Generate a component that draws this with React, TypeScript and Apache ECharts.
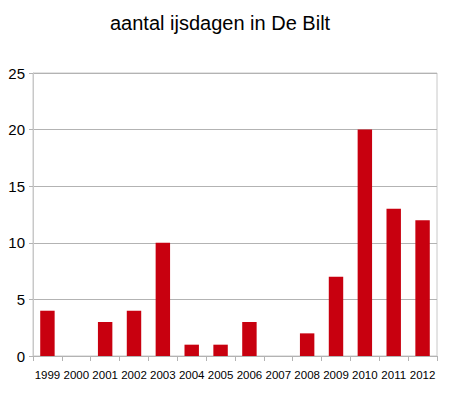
import React, { useEffect, useRef } from "react";
import * as echarts from "echarts";

const years = ["1999","2000","2001","2002","2003","2004","2005","2006","2007","2008","2009","2010","2011","2012"];
const ijsdagen = [4, 0, 3, 4, 10, 1, 1, 3, 0, 2, 7, 20, 13, 12];
const titleText = "aantal ijsdagen in De Bilt";

export default function App() {
  const ref = useRef<HTMLDivElement>(null);
  useEffect(() => {
    const chart = echarts.init(ref.current!, null, { renderer: "svg" });
    chart.setOption({
      animation: false,
      backgroundColor: "#ffffff",
      title: {
        text: titleText,
        left: 105,
        top: 8,
        textStyle: { fontFamily: "Liberation Sans, Arial", fontSize: 20, fontWeight: "normal", color: "#000" },
      },
      grid: { left: 33, right: 12, top: 73, bottom: 37, containLabel: false, show: true, borderColor: "#c8c8c8", borderWidth: 1 },
      xAxis: {
        type: "category",
        data: years,
        axisLine: { show: true, lineStyle: { color: "#b3b3b3" } },
        axisTick: { show: true, length: 5, lineStyle: { color: "#b3b3b3" } },
        axisLabel: { color: "#000", fontSize: 11.5, fontFamily: "Liberation Sans, Arial", margin: 13, interval: 0 },
      },
      yAxis: {
        type: "value",
        min: 0,
        max: 25,
        interval: 5,
        axisLine: { show: true, lineStyle: { color: "#c8c8c8" } },
        axisTick: { show: true, length: 4, lineStyle: { color: "#b3b3b3" } },
        splitLine: { lineStyle: { color: "#b3b3b3" } },
        axisLabel: { color: "#000", fontSize: 15, fontFamily: "Liberation Sans, Arial", margin: 8 },
      },
      series: [
        {
          type: "bar",
          data: ijsdagen,
          barWidth: "50%",
          itemStyle: { color: "#c8000f" },
        },
      ],
    });
    return () => chart.dispose();
  }, []);
  return <div ref={ref} style={{ width: 449, height: 393, position: "absolute", left: 0, top: 0 }} />;
}
